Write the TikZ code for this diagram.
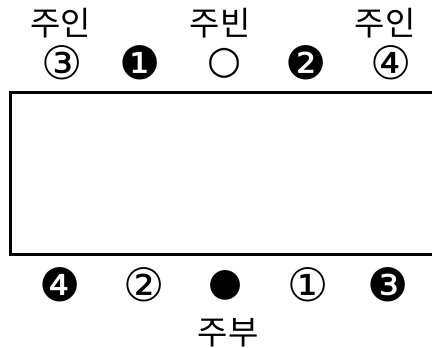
\documentclass[tikz,border=0pt]{standalone}
\usepackage{fontspec}
\newfontfamily\kor{Noto Sans CJK KR}
\newfontfamily\sym{DejaVu Sans}
\begin{document}
\begin{tikzpicture}[x=1pt,y=-1pt,
  lbl/.style={font=\kor\fontsize{33}{33}\selectfont, inner sep=0pt, anchor=center},
  seat/.style={font=\sym\fontsize{46}{46}\selectfont, inner sep=0pt, anchor=center},
  dot/.style={font=\sym\fontsize{39}{39}\selectfont, inner sep=0pt, anchor=center}]
\useasboundingbox (0,0) rectangle (432,348);
\node[lbl] (h1) at (61,23) {주인};
\node[lbl] (g)  at (220,23) {주빈};
\node[lbl] (h2) at (385,23) {주인};
\node[seat] (t1) at (62,63) {③};
\node[seat] (t2) at (140,63) {❶};
\node[dot] (t3) at (225,63) {○};
\node[seat] (t4) at (306,63) {❷};
\node[seat] (t5) at (391,63) {④};
\node[seat] (b1) at (60,285) {❹};
\node[seat] (b2) at (144,285) {②};
\node[dot] (b3) at (226,285) {●};
\node[seat] (b4) at (308,285) {①};
\node[seat] (b5) at (388,285) {❸};
\node[lbl] (w) at (228,333) {주부};
\draw[line width=3pt] (440,92) -- (10,92) -- (10,254) -- (440,254);
\end{tikzpicture}
\end{document}
